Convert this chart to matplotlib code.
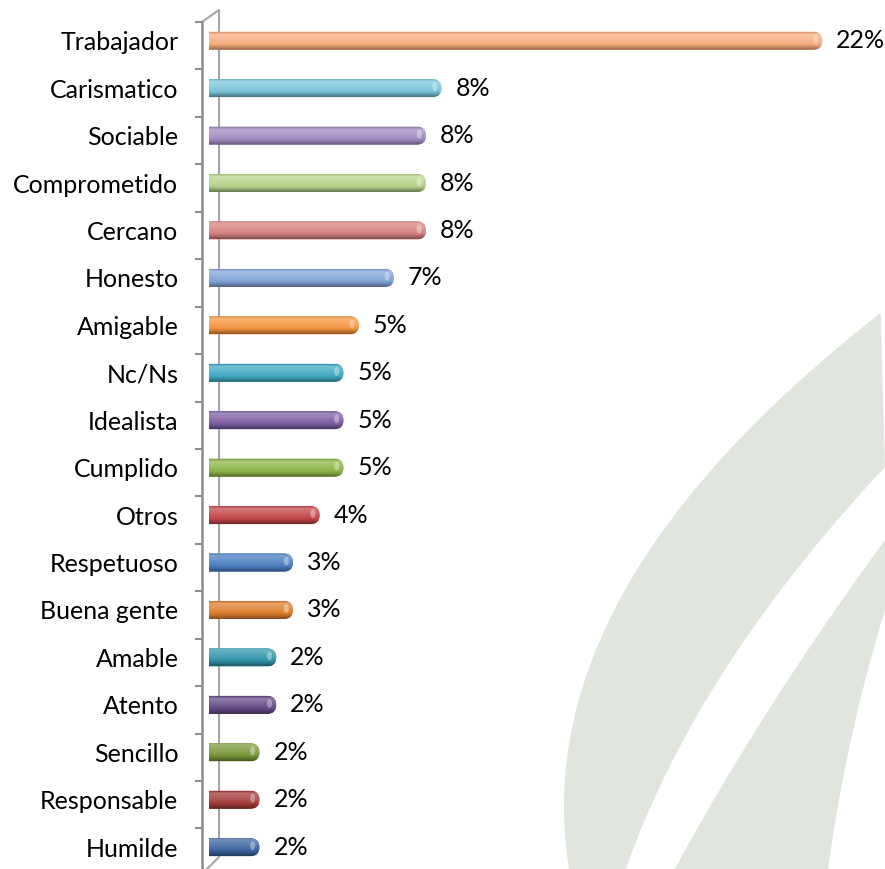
import numpy as np
import matplotlib
matplotlib.use("Agg")
import matplotlib.pyplot as plt
from matplotlib.patches import FancyBboxPatch, Polygon, Ellipse
from matplotlib.colors import to_rgb

plt.rcParams['font.family'] = ['Lato', 'DejaVu Sans']

categories = ['Trabajador', 'Carismatico', 'Sociable', 'Comprometido', 'Cercano',
              'Honesto', 'Amigable', 'Nc/Ns', 'Idealista', 'Cumplido', 'Otros',
              'Respetuoso', 'Buena gente', 'Amable', 'Atento', 'Sencillo',
              'Responsable', 'Humilde']
values = [21.9, 8.3, 7.75, 7.75, 7.75, 6.6, 5.35, 4.8, 4.8, 4.8, 3.95,
          3.0, 3.0, 2.4, 2.4, 1.8, 1.8, 1.8]
colors = ['#F9AE7E', '#7CC6DC', '#A28DC1', '#B7D38A', '#D88483', '#84A4DA',
          '#F7963F', '#3FA9C4', '#7F5FA5', '#8DB547', '#C3474A', '#4A7DC1',
          '#DE7F2E', '#3397AE', '#634A87', '#7D9A3C', '#A43B3B', '#3D66A0']

W, H = 885, 869
fig = plt.figure(figsize=(W / 100, H / 100), dpi=100)
fig.patch.set_facecolor('white')


def px(x, y):
    return x / W, 1 - y / H


# background arcs (decoration)
band = '#E0E5DD'


def edge(ys, xs, yy):
    c = np.polyfit(ys, xs, 2)
    return np.minimum(np.polyval(c, yy), W)


y1 = np.linspace(313, 869, 80)
x1 = edge([313, 450, 512, 662, 869], [885, 718, 680, 597, 567], y1)
y2 = np.linspace(869, 467, 80)
x2 = edge([467, 662, 857, 869], [885, 730, 630, 626], y2)
pts = [px(a, b) for a, b in zip(x1, y1)] + [px(a, b) for a, b in zip(x2, y2)]
fig.patches.append(Polygon(pts, closed=True, transform=fig.transFigure,
                           facecolor=band, edgecolor='none', zorder=0))

y3 = np.linspace(540, 869, 80)
x3 = edge([540, 662, 857, 869], [885, 800, 680, 676], y3)
y4 = np.linspace(869, 610, 80)
x4 = edge([610, 662, 857, 869], [885, 870, 830, 828], y4)
pts = [px(a, b) for a, b in zip(x3, y3)] + [px(a, b) for a, b in zip(x4, y4)]
fig.patches.append(Polygon(pts, closed=True, transform=fig.transFigure,
                           facecolor=band, edgecolor='none', zorder=0))

# axes: left edge where bars start
ax_left, ax_w = 209, 676
ax = fig.add_axes([ax_left / W, 0, ax_w / W, 1])
ax.patch.set_alpha(0)
xscale = 28.0                         # px per percent
step, first = 47.44, 40.7             # px between categories, first centre
ax.set_xlim(0, ax_w / xscale)
ax.set_ylim((H - first) / step, -first / step)
for s in ax.spines.values():
    s.set_visible(False)
ax.set_xticks([])
pos = np.arange(len(categories))
ax.set_yticks(pos)
ax.set_yticklabels(categories, fontsize=18, color='black')
ax.tick_params(axis='y', length=0, pad=22)

# 3d wall lines
wall = '#8C8C8C'
tr = ax.get_yaxis_transform()
fx = (202 - ax_left) / ax_w
bx = (219 - ax_left) / ax_w
tx = (196 - ax_left) / ax_w
off = 5 / step
ax.plot([fx, fx], [-0.5 + off, (H - first) / step], color=wall, lw=1.8,
        transform=tr, clip_on=False, zorder=1)
ax.plot([fx, bx, bx, (207 - ax_left) / ax_w],
        [-0.5 + off, (10 - first) / step, (857 - first) / step, (H - first) / step],
        color='#A6A6A6', lw=1.5, transform=tr, clip_on=False, zorder=1)
for k in range(len(categories) + 1):
    yk = k - 0.5 + off
    ax.plot([tx, fx], [yk, yk], color=wall, lw=1.5, transform=tr,
            clip_on=False, zorder=1)

# cylinder bars
h = 18 / step
aspect = xscale / step
r = 9 / xscale


def shade(c, f):
    c = np.array(to_rgb(c))
    if f >= 0:
        return c + (1 - c) * f
    return c * (1 + f)


stops = [0.0, 0.12, 0.4, 0.7, 0.88, 1.0]
facs = [-0.12, 0.28, 0.15, -0.02, -0.25, -0.42]
for i, (v, c) in enumerate(zip(values, colors)):
    patch = FancyBboxPatch((-r * 2, i - h / 2), v + r * 2, h,
                           boxstyle=f"round,pad=0,rounding_size={r}",
                           mutation_aspect=aspect, facecolor=c,
                           edgecolor='none', zorder=2)
    ax.add_patch(patch)
    t = np.linspace(0, 1, 40)
    cols = np.stack([np.interp(t, stops, [shade(c, f)[j] for f in facs])
                     for j in range(3)], axis=-1)
    img = ax.imshow(cols[:, None, :], extent=[-r * 2, v, i + h / 2, i - h / 2],
                    aspect='auto', interpolation='bilinear', zorder=3)
    img.set_clip_path(patch)
    # little highlight on the cap
    ax.add_patch(Ellipse((v - r * 0.75, i - h * 0.08), 5 / xscale, 9 / step,
                         facecolor='white', alpha=0.35, edgecolor='none',
                         zorder=4))
    ax.text(v + 0.5, i, f"{v:.0f}%", va='center', ha='left', fontsize=18,
            color='black', zorder=4)

ax.set_xlim(0, ax_w / xscale)
ax.set_ylim((H - first) / step, -first / step)

fig.savefig('out.png', dpi=100, facecolor='white')
